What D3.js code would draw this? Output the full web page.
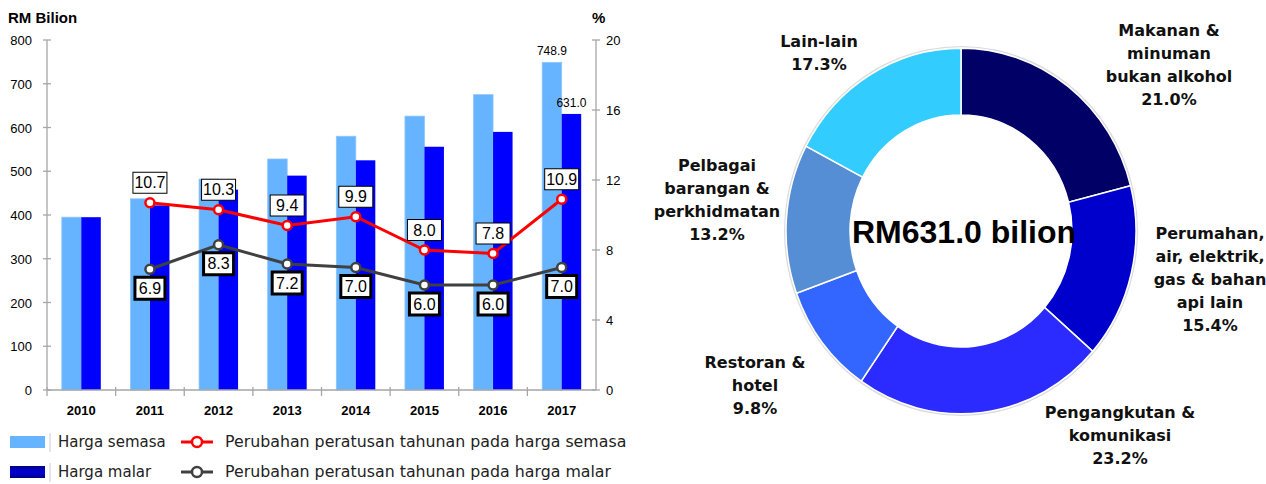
<!DOCTYPE html>
<html lang="ms">
<head>
  <meta charset="UTF-8" />
  <title>Perbelanjaan penggunaan akhir isi rumah</title>
  <script src="https://d3js.org/d3.v7.min.js"></script>
  <style>
    body {
      margin: 0;
      background: #fff;
    }
    svg {
      display: block;
    }
    .tick-label {
      font: 13px 'Liberation Sans', Arial, sans-serif;
      fill: #000;
    }
    .legend-text {
      font: 15px 'DejaVu Sans', sans-serif;
      fill: #222;
    }
    .slice-label {
      font: bold 16px 'DejaVu Sans', sans-serif;
      fill: #111;
    }
  </style>
</head>
<body>
  <svg width="1266" height="484"></svg>

  <script>
    // data
    const years = ["2010", "2011", "2012", "2013", "2014", "2015", "2016", "2017"];
    const hargaSemasa = [395, 437, 482, 528, 580, 626, 675, 748.9];
    const hargaMalar = [395, 422, 458, 490, 525, 556, 590, 631.0];
    const ubahSemasa = [null, 10.7, 10.3, 9.4, 9.9, 8.0, 7.8, 10.9];
    const ubahMalar = [null, 6.9, 8.3, 7.2, 7.0, 6.0, 6.0, 7.0];
    const leftTicks = [0, 100, 200, 300, 400, 500, 600, 700, 800];
    const rightTicks = [0, 4, 8, 12, 16, 20];

    const sliceNames = [
      ["Makanan &", "minuman", "bukan alkohol"],
      ["Perumahan,", "air, elektrik,", "gas & bahan", "api lain"],
      ["Pengangkutan &", "komunikasi"],
      ["Restoran &", "hotel"],
      ["Pelbagai", "barangan &", "perkhidmatan"],
      ["Lain-lain"]
    ];
    const sliceShares = [21.0, 15.4, 23.2, 9.8, 13.2, 17.3];
    const sliceColors = ["#000066", "#0000cc", "#2b2bff", "#3366ff", "#558ed5", "#33ccff"];

    const svg = d3.select("svg");

    // ---------- left: bars + lines ----------
    const x = d3.scaleBand().domain(years).range([47, 596]);
    const xSub = d3.scaleBand().domain(["semasa", "malar"])
      .range([0, x.bandwidth()]).paddingOuter(0.76);
    const y = d3.scaleLinear().domain([0, 800]).range([390, 40]);
    const y2 = d3.scaleLinear().domain([0, 20]).range([390, 40]);
    const axisColor = "#a6a6a6";

    svg.append("text").attr("x", 8).attr("y", 23)
      .style("font", "bold 15px 'Liberation Sans', Arial, sans-serif").text("RM Bilion");
    svg.append("text").attr("x", 592).attr("y", 23)
      .style("font", "bold 15px 'Liberation Sans', Arial, sans-serif").text("%");

    const bars = svg.append("g");
    years.forEach((yr, i) => {
      bars.append("rect")
        .attr("x", x(yr) + xSub("semasa"))
        .attr("y", y(hargaSemasa[i]))
        .attr("width", xSub.bandwidth())
        .attr("height", y(0) - y(hargaSemasa[i]))
        .attr("fill", "#66b3ff")
        .attr("stroke", "#8cc6ff").attr("stroke-width", 0.8);
      bars.append("rect")
        .attr("x", x(yr) + xSub("malar"))
        .attr("y", y(hargaMalar[i]))
        .attr("width", xSub.bandwidth())
        .attr("height", y(0) - y(hargaMalar[i]))
        .attr("fill", "#0000ff");
    });

    // value labels on 2017
    const last = years.length - 1;
    svg.append("text").attr("class", "tick-label").style("font-size", "12px")
      .attr("x", x(years[last]) + xSub("semasa") + xSub.bandwidth() / 2)
      .attr("y", y(hargaSemasa[last]) - 7).attr("text-anchor", "middle")
      .text(hargaSemasa[last].toFixed(1));
    svg.append("text").attr("class", "tick-label").style("font-size", "12px")
      .attr("x", x(years[last]) + xSub("malar") + xSub.bandwidth() / 2)
      .attr("y", y(hargaMalar[last]) - 7).attr("text-anchor", "middle")
      .text(hargaMalar[last].toFixed(1));

    // axes
    const axes = svg.append("g").attr("stroke", axisColor).attr("stroke-width", 1.3);
    axes.append("line").attr("x1", 47).attr("x2", 47).attr("y1", y(800)).attr("y2", y(0));
    axes.append("line").attr("x1", 596).attr("x2", 596).attr("y1", y(800)).attr("y2", y(0));
    axes.append("line").attr("x1", 47).attr("x2", 596).attr("y1", y(0)).attr("y2", y(0));
    leftTicks.forEach(t => {
      axes.append("line").attr("x1", 43).attr("x2", 51).attr("y1", y(t)).attr("y2", y(t));
    });
    rightTicks.forEach(t => {
      axes.append("line").attr("x1", 592).attr("x2", 600).attr("y1", y2(t)).attr("y2", y2(t));
    });
    years.forEach(yr => {
      axes.append("line").attr("x1", x(yr)).attr("x2", x(yr)).attr("y1", y(0) - 3).attr("y2", y(0) + 6);
    });

    svg.append("g").selectAll("text").data(leftTicks).join("text")
      .attr("class", "tick-label").attr("x", 32).attr("y", d => y(d) + 5)
      .attr("text-anchor", "end").text(d => d);
    svg.append("g").selectAll("text").data(rightTicks).join("text")
      .attr("class", "tick-label").attr("x", 606).attr("y", d => y2(d) + 5)
      .text(d => d);
    svg.append("g").selectAll("text").data(years).join("text")
      .attr("class", "tick-label").style("font-weight", "bold")
      .attr("x", d => x(d) + x.bandwidth() / 2).attr("y", 415)
      .attr("text-anchor", "middle").text(d => d);

    // lines
    function drawSeries(values, color, below) {
      const pts = years.map((yr, i) => ({ yr, v: values[i] })).filter(d => d.v !== null);
      const line = d3.line().x(d => x(d.yr) + x.bandwidth() / 2).y(d => y2(d.v));
      svg.append("path").datum(pts).attr("d", line)
        .attr("fill", "none").attr("stroke", color).attr("stroke-width", 3);
      svg.append("g").selectAll("circle").data(pts).join("circle")
        .attr("cx", d => x(d.yr) + x.bandwidth() / 2).attr("cy", d => y2(d.v))
        .attr("r", 4.5).attr("fill", "#fff").attr("stroke", color).attr("stroke-width", 2.5);

      const lab = svg.append("g").selectAll("g").data(pts).join("g")
        .attr("transform", d => `translate(${x(d.yr) + x.bandwidth() / 2},${y2(d.v) + (below ? 19 : -20)})`);
      lab.append("rect")
        .attr("x", below ? -15 : -17).attr("y", below ? -11 : -10.5)
        .attr("width", below ? 30 : 34).attr("height", below ? 22 : 21)
        .attr("fill", "#fff").attr("stroke", "#000").attr("stroke-width", below ? 3 : 1);
      lab.append("text").attr("text-anchor", "middle").attr("y", 5.5)
        .style("font", "16px 'Liberation Sans', Arial, sans-serif")
        .text(d => d.v.toFixed(1));
    }
    drawSeries(ubahMalar, "#404040", true);
    drawSeries(ubahSemasa, "#ff0000", false);

    // legend
    const grad = svg.append("defs").append("linearGradient").attr("id", "gMalar")
      .attr("x1", 0).attr("x2", 0).attr("y1", 0).attr("y2", 1);
    grad.append("stop").attr("offset", "0%").attr("stop-color", "#000080");
    grad.append("stop").attr("offset", "50%").attr("stop-color", "#0000dd");
    grad.append("stop").attr("offset", "100%").attr("stop-color", "#000080");

    const legend = svg.append("g");
    legend.append("rect").attr("x", 10).attr("y", 436).attr("width", 35).attr("height", 12).attr("fill", "#66b3ff");
    legend.append("rect").attr("x", 10).attr("y", 466).attr("width", 35).attr("height", 12).attr("fill", "url(#gMalar)");
    legend.append("line").attr("x1", 50).attr("x2", 50).attr("y1", 433).attr("y2", 452).attr("stroke", "#ccc");
    legend.append("line").attr("x1", 50).attr("x2", 50).attr("y1", 463).attr("y2", 482).attr("stroke", "#ccc");
    legend.append("text").attr("class", "legend-text").attr("x", 58).attr("y", 447).text("Harga semasa");
    legend.append("text").attr("class", "legend-text").attr("x", 58).attr("y", 477).text("Harga malar");
    [["#ff0000", 442, "Perubahan peratusan tahunan pada harga semasa"],
     ["#404040", 472, "Perubahan peratusan tahunan pada harga malar"]].forEach(([c, ly, t]) => {
      legend.append("line").attr("x1", 181).attr("x2", 213).attr("y1", ly).attr("y2", ly)
        .attr("stroke", c).attr("stroke-width", 3);
      legend.append("circle").attr("cx", 197).attr("cy", ly).attr("r", 5)
        .attr("fill", "#fff").attr("stroke", c).attr("stroke-width", 2.5);
      legend.append("text").attr("class", "legend-text").style("font-size", "15.8px")
        .attr("x", 225).attr("y", ly + 5).text(t);
    });

    // ---------- right: donut ----------
    const cx = 961, cy = 231;
    const pie = d3.pie().sort(null).value(d => d);
    const arc = d3.arc().innerRadius(111).outerRadius(175);
    const donut = svg.append("g").attr("transform", `translate(${cx},${cy}) scale(1,1.045)`);
    donut.append("path")
      .attr("d", d3.arc().innerRadius(174).outerRadius(177).startAngle(0).endAngle(2 * Math.PI)())
      .attr("fill", "#ccc").attr("opacity", 0.7);
    donut.selectAll("path.slice").data(pie(sliceShares)).join("path")
      .attr("class", "slice")
      .attr("d", arc)
      .attr("fill", (d, i) => sliceColors[i])
      .attr("stroke", "#fff").attr("stroke-width", 1.5);

    svg.append("text").attr("x", cx + 3).attr("y", cy + 12).attr("text-anchor", "middle")
      .style("font", "bold 32px 'Liberation Sans', Arial, sans-serif")
      .text(`RM${hargaMalar[last].toFixed(1)} bilion`);

    // label placement (x centre, first baseline)
    const labelPos = [[1169, 36], [1210, 239], [1120, 418], [755, 368], [717, 171], [819, 47]];
    const lineH = 23;
    sliceNames.forEach((lines, i) => {
      const t = svg.append("text").attr("class", "slice-label").attr("text-anchor", "middle");
      lines.concat([sliceShares[i].toFixed(1) + "%"]).forEach((s, j) => {
        t.append("tspan").attr("x", labelPos[i][0]).attr("y", labelPos[i][1] + j * lineH).text(s);
      });
    });
  </script>
</body>
</html>
